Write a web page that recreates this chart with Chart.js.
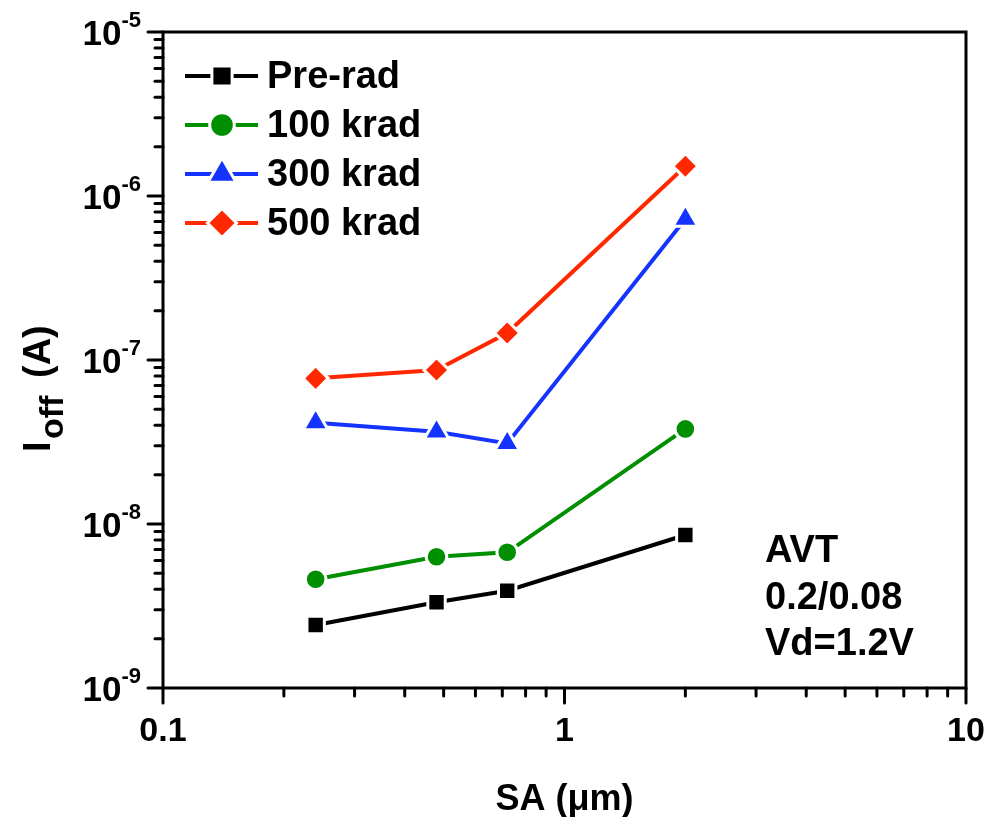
<!DOCTYPE html>
<html>
<head>
<meta charset="utf-8">
<script src="https://cdn.jsdelivr.net/npm/chart.js@4/dist/chart.umd.min.js"></script>
<style>
  html, body { margin: 0; padding: 0; background: #fff; }
  #wrap { width: 1001px; height: 817px; }
</style>
</head>
<body>
<div id="wrap"><canvas id="ioffChart" width="1001" height="817"></canvas></div>
<script>
// data
const saValues = [0.24, 0.48, 0.72, 2.0];
const preRad  = [2.42e-9, 3.33e-9, 3.92e-9, 8.57e-9];
const krad100 = [4.6e-9, 6.32e-9, 6.72e-9, 3.8e-8];
const krad300 = [4.15e-8, 3.65e-8, 3.1e-8, 7.24e-7];
const krad500 = [7.73e-8, 8.69e-8, 1.46e-7, 1.52e-6];
const seriesNames = ["Pre-rad", "100 krad", "300 krad", "500 krad"];
const xTickValues = [0.1, 1, 10];
const xTickLabels = ["0.1", "1", "10"];
const yTickExponents = [-9, -8, -7, -6, -5];
const noteLines = ["AVT", "0.2/0.08", "Vd=1.2V"];

const FONT = '"Liberation Sans", Arial, sans-serif';

function makeSet(label, values, color, style, radius) {
    return {
        label: label,
        data: saValues.map((x, i) => ({ x: x, y: values[i] })),
        borderColor: color,
        backgroundColor: color,
        borderWidth: 4,
        pointStyle: style,
        pointRadius: radius,
        pointHoverRadius: radius,
        pointBackgroundColor: color,
        pointBorderColor: "#fff",
        pointBorderWidth: 3,
        tension: 0,
        fill: false
    };
}

const datasets = [
    makeSet(seriesNames[0], preRad, "#000000", "rect", 12.3),
    makeSet(seriesNames[1], krad100, "#008f00", "circle", 10.3),
    makeSet(seriesNames[2], krad300, "#1433ff", "triangle", 14.3),
    makeSet(seriesNames[3], krad500, "#ff2800", "rectRot", 12.6)
];

// axes frame, ticks, labels, legend and notes
const decorPlugin = {
    id: "decor",
    afterDraw(chart) {
        const ctx = chart.ctx;
        const a = chart.chartArea;
        const xs = chart.scales.x;
        const ys = chart.scales.y;
        ctx.save();

        // frame
        ctx.strokeStyle = "#000";
        ctx.lineWidth = 3;
        ctx.lineCap = "butt";
        ctx.strokeRect(a.left, a.top, a.right - a.left, a.bottom - a.top);

        // x ticks
        ctx.lineCap = "round";
        for (let e = -1; e <= 0; e++) {
            for (let s = 1; s <= 9; s++) {
                const px = xs.getPixelForValue(s * Math.pow(10, e));
                const len = s === 1 ? 15 : 8;
                ctx.beginPath();
                ctx.moveTo(px, a.bottom);
                ctx.lineTo(px, a.bottom + len);
                ctx.stroke();
            }
        }
        const px10 = xs.getPixelForValue(10);
        ctx.beginPath();
        ctx.moveTo(px10, a.bottom);
        ctx.lineTo(px10, a.bottom + 15);
        ctx.stroke();

        // y ticks
        for (let e = -9; e <= -5; e++) {
            const maxS = e === -5 ? 1 : 9;
            for (let s = 1; s <= maxS; s++) {
                const py = ys.getPixelForValue(s * Math.pow(10, e));
                const len = s === 1 ? 15 : 8;
                ctx.beginPath();
                ctx.moveTo(a.left, py);
                ctx.lineTo(a.left - len, py);
                ctx.stroke();
            }
        }

        ctx.fillStyle = "#000";

        // x tick labels
        ctx.font = "bold 34px " + FONT;
        ctx.textAlign = "center";
        ctx.textBaseline = "alphabetic";
        xTickValues.forEach((v, i) => {
            ctx.fillText(xTickLabels[i], xs.getPixelForValue(v), 741);
        });

        // y tick labels 10^n
        yTickExponents.forEach(e => {
            const py = ys.getPixelForValue(Math.pow(10, e));
            const sup = String(e);
            ctx.font = "bold 22px " + FONT;
            ctx.textAlign = "right";
            ctx.fillText(sup, 141, py - 5);
            const supW = ctx.measureText(sup).width;
            ctx.font = "bold 35px " + FONT;
            ctx.fillText("10", 141 - supW, py + 13);
        });

        // x title
        ctx.textAlign = "center";
        ctx.font = "bold 36px " + FONT;
        ctx.fillText("SA (\u03bcm)", (a.left + a.right) / 2, 810);

        // y title with subscript
        ctx.save();
        ctx.translate(50, 452);
        ctx.rotate(-Math.PI / 2);
        ctx.textAlign = "left";
        ctx.font = "bold 38px " + FONT;
        ctx.fillText("I", 0, 0);
        ctx.font = "bold 34px " + FONT;
        ctx.fillText("off", 13, 13);
        ctx.font = "bold 38px " + FONT;
        ctx.fillText("(A)", 74, 0);
        ctx.restore();

        // legend
        chart.data.datasets.forEach((ds, i) => {
            const base = 88 + 49 * i;
            const ly = base - 12;
            ctx.strokeStyle = ds.borderColor;
            ctx.lineWidth = 4;
            ctx.lineCap = "butt";
            ctx.beginPath();
            ctx.moveTo(185, ly);
            ctx.lineTo(258, ly);
            ctx.stroke();
            ctx.fillStyle = ds.pointBackgroundColor;
            ctx.strokeStyle = "#fff";
            ctx.lineWidth = 3;
            Chart.helpers.drawPoint(ctx, {
                pointStyle: ds.pointStyle,
                radius: ds.pointRadius + 2,
                borderWidth: 3,
                rotation: 0
            }, 222, ly);
            ctx.fillStyle = "#000";
            ctx.font = "bold 38px " + FONT;
            ctx.textAlign = "left";
            ctx.fillText(ds.label, 267, base);
        });

        // notes
        ctx.font = "bold 38px " + FONT;
        ctx.textAlign = "left";
        noteLines.forEach((t, i) => {
            ctx.fillText(t, 765, 562 + 46.5 * i);
        });

        ctx.restore();
    }
};

new Chart(document.getElementById("ioffChart").getContext("2d"), {
    type: "line",
    data: { datasets: datasets },
    options: {
        responsive: false,
        animation: false,
        events: [],
        layout: { padding: { top: 32, right: 35, left: 0, bottom: 0 } },
        plugins: {
            legend: { display: false },
            tooltip: { enabled: false }
        },
        scales: {
            x: {
                type: "logarithmic",
                min: 0.1,
                max: 10,
                grid: { display: false },
                border: { display: false },
                ticks: { display: false },
                afterFit: s => { s.height = 129; }
            },
            y: {
                type: "logarithmic",
                min: 1e-9,
                max: 1e-5,
                grid: { display: false },
                border: { display: false },
                ticks: { display: false },
                afterFit: s => { s.width = 163; }
            }
        }
    },
    plugins: [decorPlugin]
});
</script>
</body>
</html>
